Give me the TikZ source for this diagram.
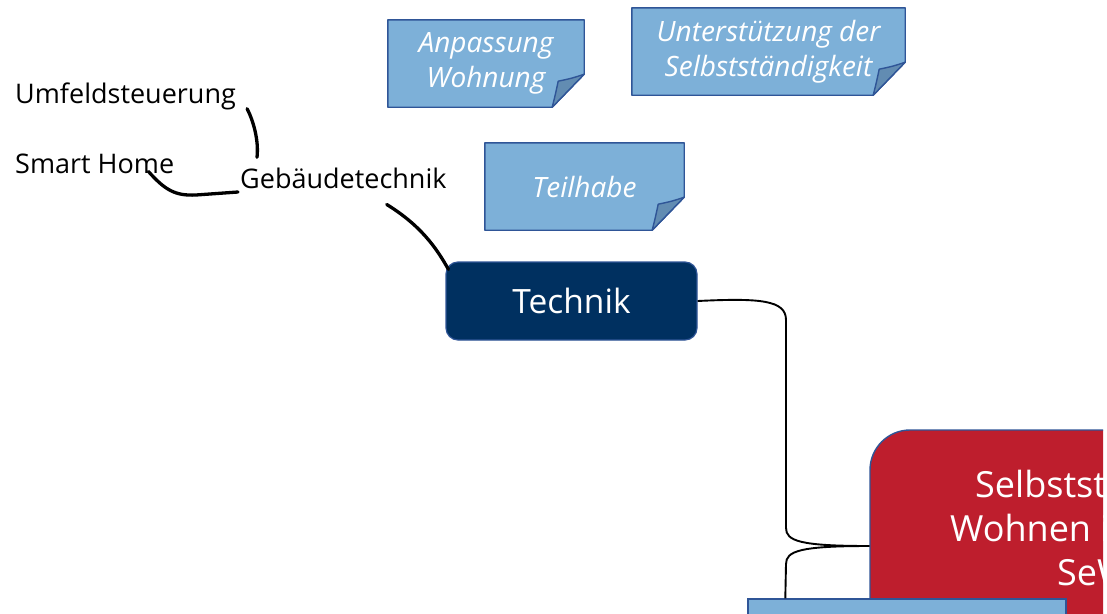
\documentclass[tikz,border=0pt]{standalone}
\usepackage{fontspec}
\setmainfont{Open Sans}
\usetikzlibrary{calc,backgrounds}
\definecolor{notefill}{RGB}{125,176,216}
\definecolor{noteline}{RGB}{47,85,151}
\definecolor{foldfill}{RGB}{98,140,178}
\definecolor{navy}{RGB}{0,48,96}
\definecolor{redbg}{RGB}{190,30,45}
\begin{document}
\begin{tikzpicture}[x=1pt,y=-1pt,
  lbl/.style={inner sep=0pt, text=black, font=\fontsize{27}{32}\selectfont},
  notetext/.style={inner sep=0pt, align=center, text=white, font=\fontsize{28}{35}\selectfont\itshape},
  notebody/.style={fill=notefill, draw=noteline, line width=1.4pt, line join=round},
  foldbody/.style={fill=foldfill, draw=noteline, line width=1.4pt, line join=round},
  techbox/.style={rectangle, rounded corners=12pt, fill=navy, draw=noteline, line width=1.2pt, text=white, font=\fontsize{33.5}{40}\selectfont, minimum width=251pt, minimum height=78pt, inner sep=0pt},
  redbox/.style={rectangle, rounded corners=40pt, fill=redbg, draw=noteline, line width=1.4pt, minimum width=440pt, minimum height=232pt},
  bluebox/.style={rectangle, fill=notefill, draw=noteline, line width=1.4pt, minimum width=318pt, minimum height=60pt},
  redtext/.style={inner sep=0pt, text=white, font=\fontsize{36}{44}\selectfont},
  link/.style={line width=1.9pt},
  ink/.style={line width=3.3pt, line cap=round}]
\useasboundingbox (0,0) rectangle (1107,613);

% sticky notes
\node[notetext, minimum width=196pt, minimum height=87pt] (anp) at (486,63.5) {Anpassung\\Wohnung};
\node[notetext, minimum width=273pt, minimum height=87pt] (unt) at (768.5,51.5) {Unterstützung der\\Selbstständigkeit};
\node[notetext, minimum width=199pt, minimum height=87pt] (teil) at (584.5,186.5) {Teilhabe};
\begin{scope}[on background layer]
\foreach \n in {anp,unt,teil}{
  \draw[notebody] (\n.north west) -- (\n.north east) -- ($(\n.south east)+(0,-33)$)
     -- ($(\n.south east)+(-32,0)$) -- (\n.south west) -- cycle;
  \draw[foldbody] ($(\n.south east)+(0,-33)$) .. controls ($(\n.south east)+(-12,-29)$) .. ($(\n.south east)+(-26,-26)$)
     .. controls ($(\n.south east)+(-29,-12)$) .. ($(\n.south east)+(-32,0)$) -- cycle;
}
\end{scope}

% labels
\node[lbl, anchor=base west] (umf) at (15,103) {Umfeldsteuerung};
\node[lbl, anchor=base west] (smart) at (15,173) {Smart Home};
\node[lbl, anchor=base west] (geb) at (240,188) {Gebäudetechnik};

% Technik
\node[techbox] (tech) at (571.5,301) {Technik};

% central node (cut by the picture edge, as in the reference)
\begin{scope}
\clip (0,0) rectangle (1103,613);
\node[redbox] (ctr) at (1090,546) {};
\node[redtext, anchor=base west] (ctra) at (975,497) {Selbstständiges};
\node[redtext, anchor=base west] (ctrb) at (950,541) {Wohnen im};
\node[redtext, anchor=base west] (ctrc) at (1057,585) {SeW};
\node[bluebox] (bot) at (907,629) {};
\end{scope}

% hand-drawn connectors
\draw[ink] ($(umf.south east)+(11,-1)$) .. controls (253,120) and (259,140) .. ($(geb.north west)+(17,-10)$);
\draw[ink] ($(smart.south east)+(-26,-2)$) .. controls (165,190) and (175,196) .. (196,195) -- ($(geb.base west)+(-2,4)$);
\draw[ink] ($(geb.south east)+(-60,16)$) .. controls (420,225) and (436,247) .. ($(tech.north west)+(3,8)$);

% bracket connectors
\draw[link] (tech.east) .. controls (760,298) and (786,300) .. (786,320) -- (786,528)
   .. controls (786,541) and (800,546) .. (ctr.west);
\draw[link] (ctr.west) .. controls (800,546) and (786,551) .. (786,564) -- ($(bot.north west)+(38,0)$);
\end{tikzpicture}
\end{document}
